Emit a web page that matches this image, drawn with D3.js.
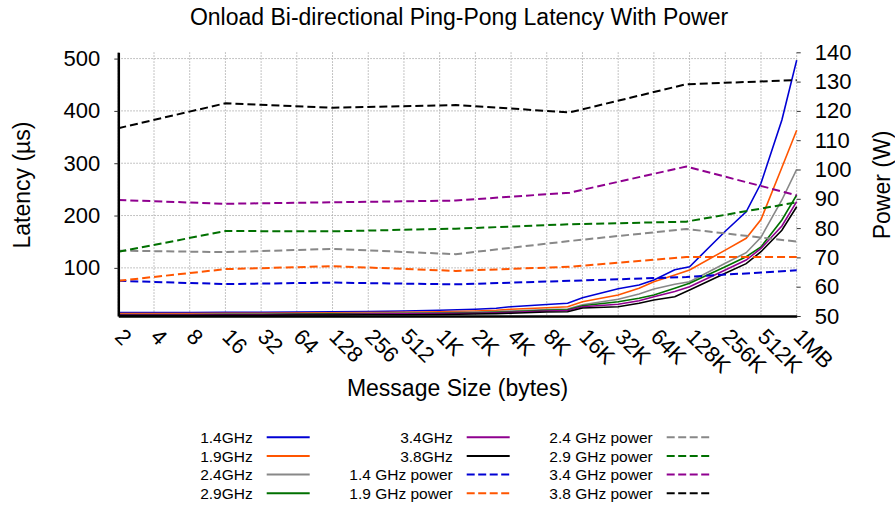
<!DOCTYPE html>
<html lang="en">
<head>
<meta charset="utf-8">
<title>Onload Bi-directional Ping-Pong Latency With Power</title>
<style>
  body { margin: 0; background: #fff; }
  svg text { font-family: "Liberation Sans", Arial, sans-serif; fill: #000; }
</style>
</head>
<body>
<script src="https://cdnjs.cloudflare.com/ajax/libs/d3/7.9.0/d3.min.js"></script>
<script>
// message sizes (bytes) on the x axis
const tickSizes = [2,4,8,16,32,64,128,256,512,1024,2048,4096,8192,16384,32768,65536,131072,262144,524288,1048576];
const tickLabels = ["2","4","8","16","32","64","128","256","512","1K","2K","4K","8K","16K","32K","64K","128K","256K","512K","1MB"];

// latency samples (µs)
const latSizes = [2,4,8,16,32,64,128,256,512,1024,2048,3072,4096,8192,12288,16384,32768,49152,65536,98304,131072,262144,393216,524288,786432,1048576];
const lat14 = [14.5,14.5,14.5,15,15,15.5,16,16.5,17.5,19,20.8,22.7,25.8,30,32.3,43,60,67.3,76.8,96.5,102.2,170,207,261.6,382.6,497];
const lat19 = [12.5,12.5,12.5,13,13,13.5,14,14.5,15,16,17.6,18.9,20.8,23.9,25.8,35.3,48,61,73.6,86.4,95.9,134,156.5,192.4,291.8,363];
const lat24 = [11,11,11,11.5,11.5,12,12.5,13,13.5,14,15.6,16.5,17.6,20.4,21.4,29.6,40,50,59.6,68.6,73.6,108.7,129,158.5,229.7,288.4];
const lat29 = [10.5,10.5,10.5,11,11,11.5,12,12,12.5,13,14.3,15.2,16.2,18.9,20,27.7,35.3,41.8,48.1,60.9,70.5,102.2,121.3,140,191.5,239.3];
const lat34 = [10,10,10,10.5,10.5,11,11,11.5,12,12.5,13.2,14,15.1,17.6,18.5,25.8,30.4,37.2,44.9,55,64,95.9,115,137,180,226.5];
const lat38 = [9,9,9,9.5,9.5,10,10,10.5,10.5,11,11.8,12.5,13.2,15.6,16.2,23.3,25.8,32.3,38.6,44.9,57.7,89.6,108,130.9,172,216.9];

// power samples (W)
const powSizes = [2,16,128,1400,12800,122880,1048576];
const pow14 = [62.0,60.9,61.4,60.8,62.0,63.3,65.6];
const pow19 = [62.0,66.0,67.0,65.4,66.8,70.1,70.1];
const pow24 = [72.3,71.8,72.9,71.1,75.6,79.7,75.4];
const pow29 = [71.9,79.0,78.9,79.8,81.3,82.2,88.8];
const pow34 = [89.6,88.3,88.8,89.4,92.1,101.0,91.2];
const pow38 = [114.1,122.6,121.1,122.0,119.5,129.1,130.5];

const latTicks = [100,200,300,400,500];
const powTicks = [50,60,70,80,90,100,110,120,130,140];

const colors = {"1.4":"#0000d4","1.9":"#ff5500","2.4":"#888888","2.9":"#007000","3.4":"#8f008f","3.8":"#000000"};

const series = [
  {name:"1.4GHz", key:"1.4", sizes:latSizes, vals:lat14, power:false},
  {name:"1.9GHz", key:"1.9", sizes:latSizes, vals:lat19, power:false},
  {name:"2.4GHz", key:"2.4", sizes:latSizes, vals:lat24, power:false},
  {name:"2.9GHz", key:"2.9", sizes:latSizes, vals:lat29, power:false},
  {name:"3.4GHz", key:"3.4", sizes:latSizes, vals:lat34, power:false},
  {name:"3.8GHz", key:"3.8", sizes:latSizes, vals:lat38, power:false},
  {name:"1.4 GHz power", key:"1.4", sizes:powSizes, vals:pow14, power:true},
  {name:"1.9 GHz power", key:"1.9", sizes:powSizes, vals:pow19, power:true},
  {name:"2.4 GHz power", key:"2.4", sizes:powSizes, vals:pow24, power:true},
  {name:"2.9 GHz power", key:"2.9", sizes:powSizes, vals:pow29, power:true},
  {name:"3.4 GHz power", key:"3.4", sizes:powSizes, vals:pow34, power:true},
  {name:"3.8 GHz power", key:"3.8", sizes:powSizes, vals:pow38, power:true}
];

const width = 895, height = 505;
const plot = {left: 118.3, right: 796.7, top: 52.3, bottom: 316};

const svg = d3.select("body").append("svg")
  .attr("width", width).attr("height", height);

const x = d3.scaleLog().base(2).domain([2, 1048576]).range([plot.left, plot.right]);
const yLat = d3.scaleLinear().domain([8, 512]).range([plot.bottom, plot.top]);
const yPow = d3.scaleLinear().domain([50, 140]).range([plot.bottom, plot.top]);

// grid
const grid = svg.append("g").attr("stroke", "#b0b0b0").attr("stroke-width", 1)
  .attr("stroke-dasharray", "1.5,1.5");
grid.selectAll(".vg").data(tickSizes).enter().append("line")
  .attr("x1", d => x(d)).attr("x2", d => x(d))
  .attr("y1", plot.top).attr("y2", plot.bottom);
grid.selectAll(".hg").data(latTicks).enter().append("line")
  .attr("x1", plot.left).attr("x2", plot.right)
  .attr("y1", d => yLat(d)).attr("y2", d => yLat(d));

// lines
const lineLat = d3.line().x(d => x(d[0])).y(d => yLat(d[1]));
const linePow = d3.line().x(d => x(d[0])).y(d => yPow(d[1]));

svg.append("g").selectAll("path").data(series).enter().append("path")
  .attr("fill", "none")
  .attr("stroke", d => colors[d.key])
  .attr("stroke-width", d => d.power ? 2 : 1.6)
  .attr("stroke-dasharray", d => d.power ? "8,4" : null)
  .attr("d", d => {
    const pts = d.sizes.map((s, i) => [s, d.vals[i]]);
    return d.power ? linePow(pts) : lineLat(pts);
  });

// axes
const xAxis = svg.append("g")
  .attr("transform", `translate(0,${plot.bottom})`)
  .call(d3.axisBottom(x).tickValues(tickSizes).tickFormat((d, i) => tickLabels[i]).tickSize(0));
xAxis.select(".domain").attr("stroke", "#000").attr("stroke-width", 2.5);
xAxis.selectAll("text")
  .attr("font-size", 22)
  .attr("text-anchor", "start")
  .attr("dy", null).attr("y", 0)
  .attr("transform", "translate(-5,22) rotate(45)");

const yAxisL = svg.append("g")
  .attr("transform", `translate(${plot.left},0)`)
  .call(d3.axisLeft(yLat).tickValues(latTicks).tickSize(4).tickSizeOuter(0).tickPadding(14));
yAxisL.select(".domain").attr("stroke", "#000").attr("stroke-width", 2.5);
yAxisL.selectAll("text").attr("font-size", 22);

const yAxisR = svg.append("g")
  .attr("transform", `translate(${plot.right},0)`)
  .call(d3.axisRight(yPow).tickValues(powTicks).tickSize(4).tickSizeOuter(0).tickPadding(14));
yAxisR.select(".domain").remove();
yAxisR.selectAll("text").attr("font-size", 22);

svg.selectAll(".tick line").attr("stroke", "#333");

// titles
svg.append("text").attr("x", 459).attr("y", 25).attr("text-anchor", "middle")
  .attr("font-size", 23).text("Onload Bi-directional Ping-Pong Latency With Power");
svg.append("text").attr("x", 457.5).attr("y", 396).attr("text-anchor", "middle")
  .attr("font-size", 23).text("Message Size (bytes)");
svg.append("text").attr("transform", "translate(30,185) rotate(-90)")
  .attr("text-anchor", "middle").attr("font-size", 23).text("Latency (µs)");
svg.append("text").attr("transform", "translate(890,185) rotate(-90)")
  .attr("text-anchor", "middle").attr("font-size", 23).text("Power (W)");

// legend
const legend = svg.append("g");
const colRight = [252.7, 452.7, 652.7];
const rowY = [437.3, 456, 474.6, 493.3];
const items = legend.selectAll("g").data(series).enter().append("g")
  .attr("transform", (d, i) => `translate(${colRight[Math.floor(i / 4)]},${rowY[i % 4]})`);
items.append("text").attr("x", 0).attr("y", 5.5).attr("text-anchor", "end")
  .attr("font-size", 15.5).text(d => d.name);
items.append("line").attr("x1", 14).attr("x2", 57).attr("y1", 0).attr("y2", 0)
  .attr("stroke", d => colors[d.key])
  .attr("stroke-width", 2)
  .attr("stroke-dasharray", d => d.power ? "8,3.5" : null);
</script>
</body>
</html>
